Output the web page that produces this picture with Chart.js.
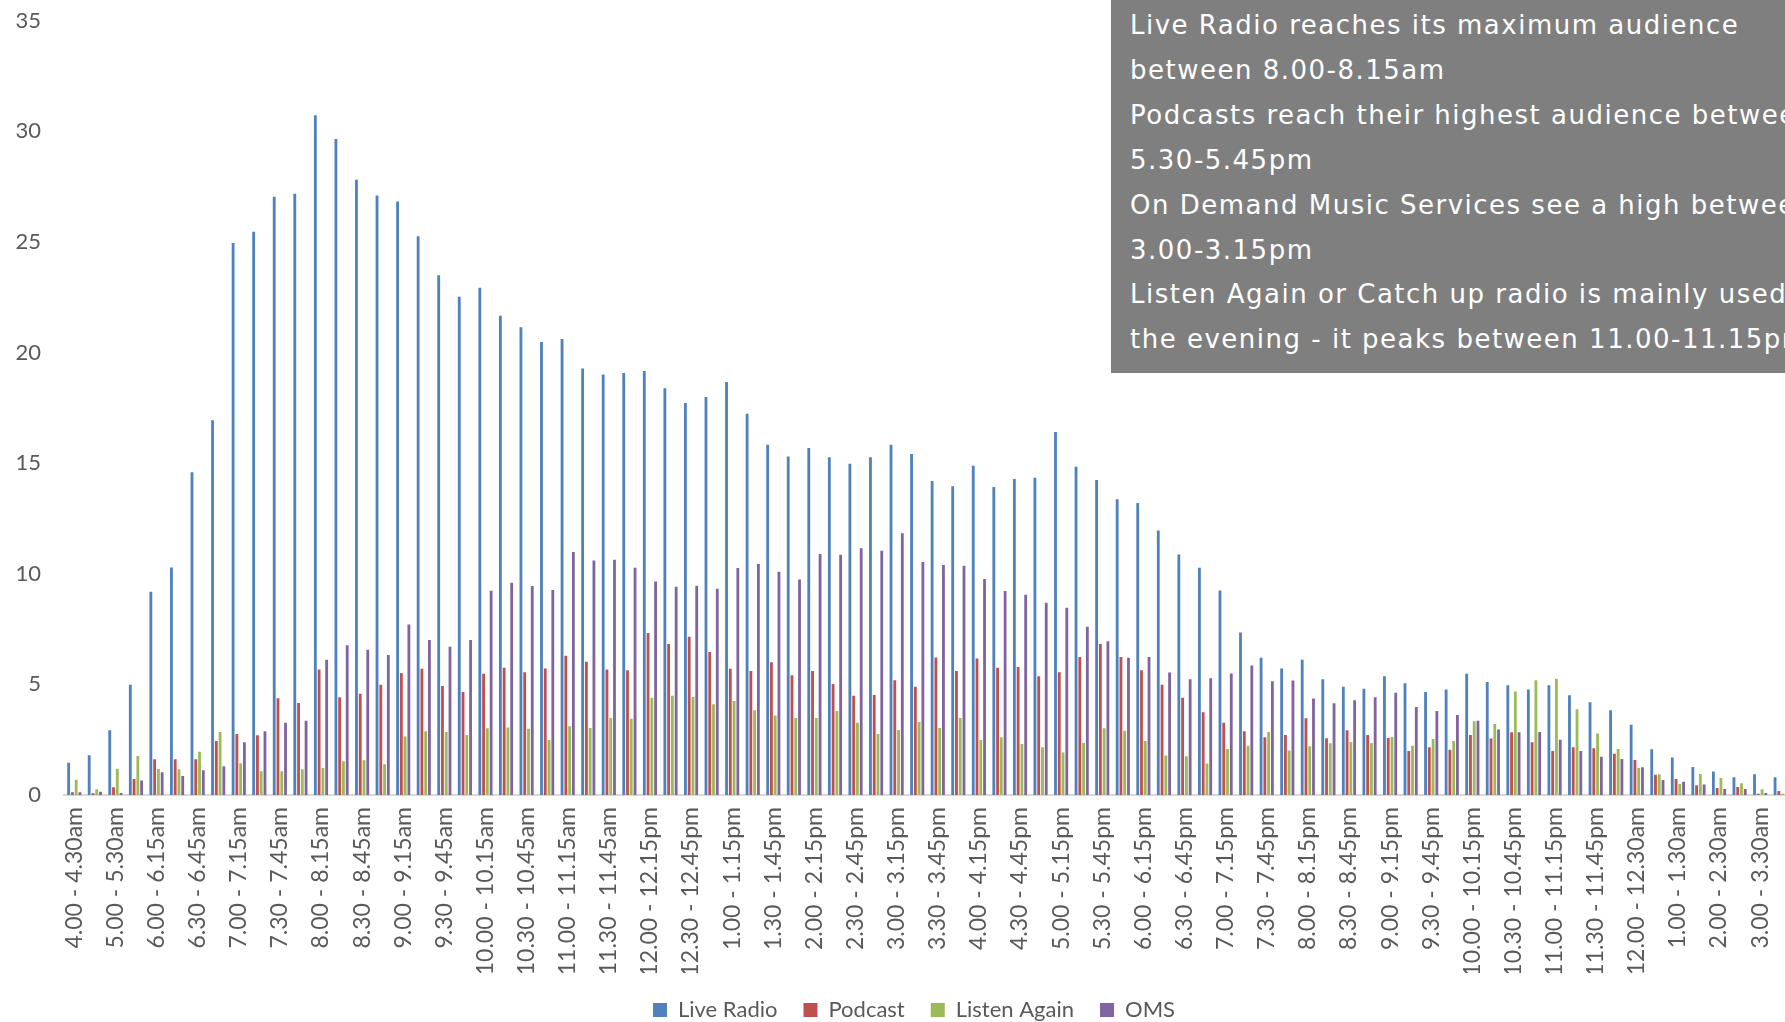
<!DOCTYPE html>
<html>
<head>
<meta charset="utf-8">
<title>Listening by time of day</title>
<script src="https://cdn.jsdelivr.net/npm/chart.js@4.4.1/dist/chart.umd.min.js"></script>
<style>
  html, body { margin: 0; padding: 0; background: #ffffff; overflow: hidden; }
  #wrap { position: relative; width: 1800px; height: 1031px; }
  #notes {
    position: absolute; left: 1111px; top: 0; width: 760px; height: 373px;
    box-sizing: border-box; padding: 3px 0 0 19px;
    background: #7f7f7f; color: #ffffff;
    font-family: "DejaVu Sans", sans-serif; font-size: 26px; letter-spacing: 1.5px;
    line-height: 44.9px; white-space: nowrap; overflow: hidden;
  }
</style>
</head>
<body>
<div id="wrap">
  <canvas id="chart" width="1800" height="1031"></canvas>
  <div id="notes">
    Live Radio reaches its maximum audience<br>
    between 8.00-8.15am<br>
    Podcasts reach their highest audience between<br>
    5.30-5.45pm<br>
    On Demand Music Services see a high between<br>
    3.00-3.15pm<br>
    Listen Again or Catch up radio is mainly used in<br>
    the evening - it peaks between 11.00-11.15pm
  </div>
</div>
<script>
// Time slots: half hours before 6am and after midnight, quarter hours in between
const timeSlots = [
  '4.00 - 4.30am', '4.30 - 5.00am', '5.00 - 5.30am', '5.30 - 6.00am',
  '6.00 - 6.15am', '6.15 - 6.30am', '6.30 - 6.45am', '6.45 - 7.00am',
  '7.00 - 7.15am', '7.15 - 7.30am', '7.30 - 7.45am', '7.45 - 8.00am',
  '8.00 - 8.15am', '8.15 - 8.30am', '8.30 - 8.45am', '8.45 - 9.00am',
  '9.00 - 9.15am', '9.15 - 9.30am', '9.30 - 9.45am', '9.45 - 10.00am',
  '10.00 - 10.15am', '10.15 - 10.30am', '10.30 - 10.45am', '10.45 - 11.00am',
  '11.00 - 11.15am', '11.15 - 11.30am', '11.30 - 11.45am', '11.45 - 12.00pm',
  '12.00 - 12.15pm', '12.15 - 12.30pm', '12.30 - 12.45pm', '12.45 - 1.00pm',
  '1.00 - 1.15pm', '1.15 - 1.30pm', '1.30 - 1.45pm', '1.45 - 2.00pm',
  '2.00 - 2.15pm', '2.15 - 2.30pm', '2.30 - 2.45pm', '2.45 - 3.00pm',
  '3.00 - 3.15pm', '3.15 - 3.30pm', '3.30 - 3.45pm', '3.45 - 4.00pm',
  '4.00 - 4.15pm', '4.15 - 4.30pm', '4.30 - 4.45pm', '4.45 - 5.00pm',
  '5.00 - 5.15pm', '5.15 - 5.30pm', '5.30 - 5.45pm', '5.45 - 6.00pm',
  '6.00 - 6.15pm', '6.15 - 6.30pm', '6.30 - 6.45pm', '6.45 - 7.00pm',
  '7.00 - 7.15pm', '7.15 - 7.30pm', '7.30 - 7.45pm', '7.45 - 8.00pm',
  '8.00 - 8.15pm', '8.15 - 8.30pm', '8.30 - 8.45pm', '8.45 - 9.00pm',
  '9.00 - 9.15pm', '9.15 - 9.30pm', '9.30 - 9.45pm', '9.45 - 10.00pm',
  '10.00 - 10.15pm', '10.15 - 10.30pm', '10.30 - 10.45pm', '10.45 - 11.00pm',
  '11.00 - 11.15pm', '11.15 - 11.30pm', '11.30 - 11.45pm', '11.45 - 12.00am',
  '12.00 - 12.30am', '12.30 - 1.00am', '1.00 - 1.30am', '1.30 - 2.00am',
  '2.00 - 2.30am', '2.30 - 3.00am', '3.00 - 3.30am', '3.30 - 4.00am'
];

const liveRadio = [
  1.46, 1.8, 2.93, 4.98, 9.19, 10.28, 14.58, 16.93,
  24.95, 25.45, 27.03, 27.17, 30.72, 29.64, 27.8, 27.09,
  26.82, 25.25, 23.49, 22.52, 22.92, 21.66, 21.14, 20.47,
  20.61, 19.27, 19.0, 19.07, 19.16, 18.38, 17.71, 17.99,
  18.66, 17.23, 15.83, 15.3, 15.68, 15.26, 14.97, 15.26,
  15.83, 15.41, 14.19, 13.95, 14.88, 13.92, 14.28, 14.34,
  16.4, 14.83, 14.23, 13.37, 13.19, 11.95, 10.87, 10.27,
  9.24, 7.34, 6.2, 5.72, 6.11, 5.23, 4.89, 4.8,
  5.37, 5.05, 4.66, 4.77, 5.48, 5.11, 4.96, 4.77,
  4.96, 4.51, 4.19, 3.83, 3.18, 2.07, 1.69, 1.27,
  1.06, 0.8, 0.94, 0.8
];

const podcast = [
  0.12, 0.08, 0.35, 0.72, 1.61, 1.61, 1.61, 2.44,
  2.76, 2.7, 4.37, 4.16, 5.67, 4.42, 4.57, 4.98,
  5.51, 5.7, 4.93, 4.65, 5.48, 5.75, 5.55, 5.72,
  6.29, 6.02, 5.67, 5.64, 7.32, 6.82, 7.15, 6.46,
  5.7, 5.6, 6.0, 5.41, 5.6, 5.02, 4.48, 4.52,
  5.19, 4.89, 6.21, 5.6, 6.17, 5.75, 5.79, 5.37,
  5.55, 6.24, 6.82, 6.24, 5.64, 4.98, 4.39, 3.74,
  3.26, 2.88, 2.61, 2.71, 3.47, 2.56, 2.93, 2.71,
  2.58, 1.99, 2.16, 2.04, 2.71, 2.55, 2.84, 2.38,
  1.99, 2.16, 2.11, 1.86, 1.58, 0.92, 0.72, 0.44,
  0.32, 0.36, 0.06, 0.18
];

const listenAgain = [
  0.69, 0.26, 1.19, 1.76, 1.18, 1.16, 1.95, 2.85,
  1.43, 1.07, 1.07, 1.16, 1.22, 1.52, 1.57, 1.39,
  2.64, 2.88, 2.85, 2.71, 3.02, 3.05, 2.99, 2.49,
  3.11, 3.03, 3.48, 3.45, 4.39, 4.49, 4.43, 4.1,
  4.25, 3.83, 3.59, 3.48, 3.48, 3.8, 3.27, 2.76,
  2.94, 3.3, 3.03, 3.48, 2.49, 2.61, 2.31, 2.16,
  1.92, 2.35, 3.02, 2.9, 2.44, 1.78, 1.75, 1.42,
  2.08, 2.22, 2.85, 2.01, 2.2, 2.34, 2.4, 2.35,
  2.62, 2.23, 2.53, 2.44, 3.33, 3.21, 4.68, 5.19,
  5.25, 3.88, 2.78, 2.08, 1.22, 0.94, 0.5, 0.95,
  0.77, 0.53, 0.26, 0.06
];

const oms = [
  0.12, 0.15, 0.09, 0.66, 1.03, 0.86, 1.12, 1.3,
  2.38, 2.88, 3.26, 3.35, 6.11, 6.77, 6.56, 6.33,
  7.71, 7.0, 6.7, 7.01, 9.23, 9.59, 9.44, 9.26,
  10.98, 10.6, 10.63, 10.27, 9.65, 9.41, 9.46, 9.32,
  10.26, 10.44, 10.09, 9.74, 10.89, 10.86, 11.15, 11.04,
  11.83, 10.53, 10.39, 10.36, 9.76, 9.22, 9.05, 8.69,
  8.46, 7.6, 6.95, 6.2, 6.24, 5.54, 5.23, 5.28,
  5.49, 5.85, 5.14, 5.17, 4.36, 4.15, 4.28, 4.42,
  4.62, 3.98, 3.8, 3.62, 3.36, 2.96, 2.84, 2.85,
  2.5, 1.99, 1.73, 1.63, 1.25, 0.68, 0.6, 0.48,
  0.27, 0.27, 0.09, 0.05
];

const seriesNames = ['Live Radio', 'Podcast', 'Listen Again', 'OMS'];
const seriesColors = ['#4f81bd', '#c0504d', '#9bbb59', '#8064a2'];
const seriesValues = [liveRadio, podcast, listenAgain, oms];

const textColor = '#595959';
const fontFamily = 'Lato, "Open Sans", sans-serif';

// Moves the centred legend row a little to the right, under the plot
const legendNudge = {
  id: 'legendNudge',
  afterLayout(chart) {
    if (chart.legend) {
      chart.legend.left += 12;
      chart.legend.right += 12;
    }
  }
};

new Chart(document.getElementById('chart'), {
  type: 'bar',
  data: {
    labels: timeSlots,
    datasets: seriesNames.map((name, i) => ({
      label: name,
      data: seriesValues[i],
      backgroundColor: seriesColors[i],
      borderWidth: 0,
      categoryPercentage: 0.733,
      barPercentage: 0.75
    }))
  },
  plugins: [legendNudge],
  options: {
    responsive: false,
    animation: false,
    layout: { padding: { left: 13, right: 9, top: 20.5, bottom: 0 } },
    plugins: {
      tooltip: { enabled: false },
      legend: {
        position: 'bottom',
        labels: {
          color: textColor,
          font: { family: fontFamily, size: 22 },
          boxWidth: 14,
          boxHeight: 14,
          padding: 26
        }
      }
    },
    scales: {
      x: {
        afterFit: (scale) => {
          scale.height = 178;
          scale.paddingLeft = 0;
          scale.paddingRight = 0;
        },
        grid: { display: false, drawTicks: false },
        border: { display: true, color: '#d9d9d9', width: 2 },
        ticks: {
          autoSkip: false,
          minRotation: 90,
          maxRotation: 90,
          padding: 12,
          color: textColor,
          font: { family: fontFamily, size: 23 },
          callback: function (value, index) {
            return index % 2 === 0 ? this.getLabelForValue(value) : '';
          }
        }
      },
      y: {
        min: 0,
        max: 35,
        afterFit: (scale) => {
          scale.width = 51;
          scale.paddingTop = 0;
          scale.paddingBottom = 0;
        },
        grid: { display: false, drawTicks: false },
        border: { display: false },
        ticks: {
          stepSize: 5,
          padding: 23,
          color: textColor,
          font: { family: fontFamily, size: 22 }
        }
      }
    }
  }
});
</script>
</body>
</html>
